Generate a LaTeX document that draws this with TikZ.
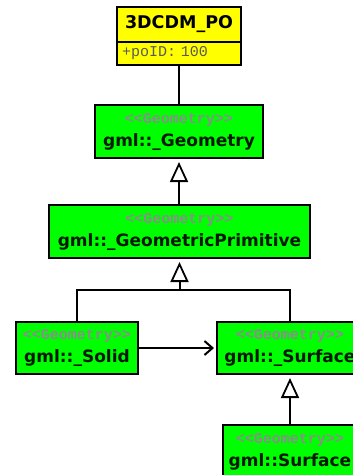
\documentclass[tikz,border=0pt]{standalone}
\usepackage{fontspec}
\setmainfont{DejaVu Sans}
\newfontfamily\stereofont{Liberation Mono}
\usetikzlibrary{arrows.meta}
\definecolor{umlyellow}{HTML}{FFFF00}
\definecolor{umlgreen}{HTML}{00FF00}
\newcommand{\stereo}[1]{{\stereofont\fontsize{15}{21}\selectfont\color{black!45}<{}<#1>{}>}}

\begin{document}
\begin{tikzpicture}[x=1pt,y=-1pt,
    cls/.style={draw=black,line width=2pt,fill=umlgreen,align=center,
                minimum height=53pt,inner sep=0pt,text=black!90!green,
                font=\fontsize{17}{22}\selectfont\bfseries},
    head/.style={draw=black,line width=2pt,fill=umlyellow,
                 minimum width=124pt,inner sep=0pt},
    link/.style={line width=2pt,draw=black},
    gen/.style={link,-{Triangle[open,length=20pt,width=18pt,line width=1.8pt]},
                shorten >=3pt},
    assoc/.style={link,-{Straight Barb[length=8pt,width=14pt,line width=2pt]},
                  shorten >=2pt}
  ]
    \clip (0,0) rectangle (353,475);
    \fill[white] (0,0) rectangle (353,475);

    \node[head,minimum height=35pt,font=\fontsize{17.5}{20}\selectfont\bfseries]
      (po) at (179,24.5) {3DCDM\_PO};
    \node[head,minimum height=23pt,text width=114pt,align=left,
          font=\stereofont\fontsize{15}{18}\selectfont\color{black!65}]
      (poid) at (179,53.5) {+poID: 100};

    \node[cls,minimum width=168pt] (geom) at (179,131.5)
      {\stereo{Geometry}\\[1pt]gml::\_Geometry};
    \node[cls,minimum width=261pt] (prim) at (179.5,231.5)
      {\stereo{Geometry}\\[1pt]gml::\_GeometricPrimitive};
    \node[cls,minimum width=122pt,minimum height=52pt] (solid) at (77,348)
      {\stereo{Geometry}\\[1pt]gml::\_Solid};
    \node[cls,minimum width=146pt,minimum height=52pt] (surf) at (290,348)
      {\stereo{Geometry}\\[1pt]gml::\_Surface};
    \node[cls,minimum width=134pt] (surface) at (290,451.5)
      {\stereo{Geometry}\\[1pt]gml::Surface};

    \coordinate (join) at (179.5,290);

    \draw[link] (poid) -- (geom);
    \draw[gen] (geom.north |- prim.north) -- (geom.south);
    \draw[link] (solid.north) |- (join);
    \draw[link] (surf.north) |- (join);
    \draw[gen] (join) -- (join |- prim.south);
    \draw[assoc] (solid) -- (surf);
    \draw[gen] (surface) -- (surf);
  \end{tikzpicture}
\end{document}
